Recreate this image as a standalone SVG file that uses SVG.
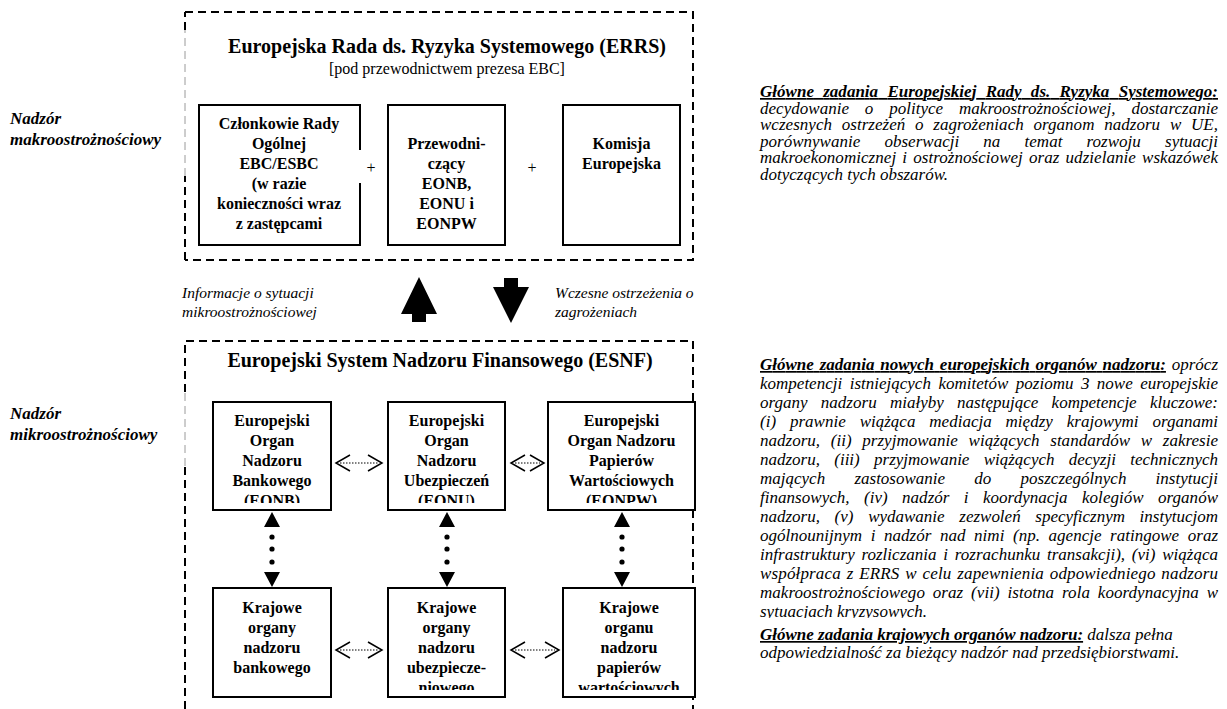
<svg xmlns="http://www.w3.org/2000/svg" width="1227" height="709" viewBox="0 0 1227 709">
<style>
text{font-family:'Liberation Serif','Times New Roman',serif;fill:#000}
.dash{fill:none;stroke:#000;stroke-width:2;stroke-dasharray:8 5}
.dashl{fill:none;stroke:#9a9a9a;stroke-width:1;stroke-dasharray:8 5}
.box{fill:#fff;stroke:#000;stroke-width:2}
.bt{font-weight:bold;font-size:16px;text-anchor:middle}
.title{font-weight:bold;font-size:20px;text-anchor:middle}
.sub{font-size:16px;text-anchor:middle}
.plus{font-size:16px;text-anchor:middle}
.lab{font-weight:bold;font-style:italic;font-size:17px}
.al{font-style:italic;font-size:15.5px}
.it{font-style:italic;font-size:17px}
.bi{font-weight:bold;font-style:italic;text-decoration:underline}
.chev{fill:none;stroke:#000;stroke-width:1.5}
.dot{fill:none;stroke:#000;stroke-width:1;stroke-dasharray:1.5 1.5}
.blk{fill:#000;stroke:none}
</style>
<defs>
<clipPath id="c1"><rect x="0" y="0" width="1227" height="503"/></clipPath>
<clipPath id="c2"><rect x="0" y="0" width="1227" height="690"/></clipPath>
<clipPath id="c3"><rect x="740" y="0" width="487" height="618"/></clipPath>
</defs>

<!-- ERRS container -->
<g id="errs">
<path class="dash" d="M185,12 H693 V260 H185"/>
<path class="dash" d="M185,260 V176"/>
<path class="dashl" d="M185,176 V30"/>
<path class="dash" d="M185,30 V12"/>
<text class="title" x="447" y="53">Europejska Rada ds. Ryzyka Systemowego (ERRS)</text>
<text class="sub" x="447" y="74">[pod przewodnictwem prezesa EBC]</text>
</g>

<g id="czlonkowie">
<rect x="199" y="105" width="161" height="140" fill="#fff"/>
<path d="M360,150 V105 H199 V245 H360 V183" fill="none" stroke="#000" stroke-width="2"/>
<text class="bt" x="279" y="129">Członkowie Rady</text>
<text class="bt" x="279" y="149">Ogólnej</text>
<text class="bt" x="279" y="169">EBC/ESBC</text>
<text class="bt" x="279" y="189">(w razie</text>
<text class="bt" x="279" y="209">konieczności wraz</text>
<text class="bt" x="279" y="229">z zastępcami</text>
</g>
<g id="plus1"><text class="plus" x="371" y="173">+</text></g>
<g id="przewodniczacy">
<rect class="box" x="388" y="105" width="117" height="140"/>
<text class="bt" x="446.5" y="149">Przewodni-</text>
<text class="bt" x="446.5" y="169">czący</text>
<text class="bt" x="446.5" y="189">EONB,</text>
<text class="bt" x="446.5" y="209">EONU i</text>
<text class="bt" x="446.5" y="229">EONPW</text>
</g>
<g id="plus2"><text class="plus" x="532" y="173">+</text></g>
<g id="komisja">
<rect class="box" x="563" y="105" width="117" height="140"/>
<text class="bt" x="621.5" y="149">Komisja</text>
<text class="bt" x="621.5" y="169">Europejska</text>
</g>

<!-- left labels -->
<g id="label-makro">
<text class="lab" x="10" y="124">Nadzór</text>
<text class="lab" x="10" y="145">makroostrożnościowy</text>
</g>
<g id="label-mikro">
<text class="lab" x="10" y="419">Nadzór</text>
<text class="lab" x="10" y="440">mikroostrożnościowy</text>
</g>

<!-- arrow labels -->
<g id="label-info">
<text class="al" x="182" y="298">Informacje o sytuacji</text>
<text class="al" x="182" y="317">mikroostrożnościowej</text>
</g>
<g id="label-warn">
<text class="al" x="555" y="298">Wczesne ostrzeżenia o</text>
<text class="al" x="555" y="317">zagrożeniach</text>
</g>

<!-- ESNF container -->
<g id="esnf">
<path class="dash" d="M185,709 V466"/>
<path class="dashl" d="M185,466 V392"/>
<path class="dash" d="M185,392 V341 H693 V709"/>
<text class="title" x="440" y="367">Europejski System Nadzoru Finansowego (ESNF)</text>
</g>

<g id="eonb">
<rect class="box" x="213" y="402" width="118" height="108"/>
<g clip-path="url(#c1)">
<text class="bt" x="272" y="426">Europejski</text>
<text class="bt" x="272" y="446">Organ</text>
<text class="bt" x="272" y="466">Nadzoru</text>
<text class="bt" x="272" y="486">Bankowego</text>
<text class="bt" x="272" y="506">(EONB)</text>
</g>
</g>
<g id="eonu">
<rect class="box" x="388" y="402" width="117" height="108"/>
<g clip-path="url(#c1)">
<text class="bt" x="446.5" y="426">Europejski</text>
<text class="bt" x="446.5" y="446">Organ</text>
<text class="bt" x="446.5" y="466">Nadzoru</text>
<text class="bt" x="446.5" y="486">Ubezpieczeń</text>
<text class="bt" x="446.5" y="506">(EONU)</text>
</g>
</g>
<g id="eonpw">
<rect class="box" x="548" y="402" width="147" height="108"/>
<g clip-path="url(#c1)">
<text class="bt" x="621.5" y="426">Europejski</text>
<text class="bt" x="621.5" y="446">Organ Nadzoru</text>
<text class="bt" x="621.5" y="466">Papierów</text>
<text class="bt" x="621.5" y="486">Wartościowych</text>
<text class="bt" x="621.5" y="506">(EONPW)</text>
</g>
</g>
<g id="kraj-bank">
<rect class="box" x="213" y="588" width="118" height="109"/>
<g clip-path="url(#c2)">
<text class="bt" x="272" y="613">Krajowe</text>
<text class="bt" x="272" y="633">organy</text>
<text class="bt" x="272" y="653">nadzoru</text>
<text class="bt" x="272" y="673">bankowego</text>
</g>
</g>
<g id="kraj-ubezp">
<rect class="box" x="388" y="588" width="117" height="109"/>
<g clip-path="url(#c2)">
<text class="bt" x="446.5" y="613">Krajowe</text>
<text class="bt" x="446.5" y="633">organy</text>
<text class="bt" x="446.5" y="653">nadzoru</text>
<text class="bt" x="446.5" y="673">ubezpiecze-</text>
<text class="bt" x="446.5" y="693">niowego</text>
</g>
</g>
<g id="kraj-papier">
<rect class="box" x="563" y="588" width="132" height="109"/>
<g clip-path="url(#c2)">
<text class="bt" x="629" y="613">Krajowe</text>
<text class="bt" x="629" y="633">organu</text>
<text class="bt" x="629" y="653">nadzoru</text>
<text class="bt" x="629" y="673">papierów</text>
<text class="bt" x="629" y="693">wartościowych</text>
</g>
</g>

<!-- connectors -->
<g id="connectors">
<polygon class="blk" points="419,277 437,314 426,314 426,322 412,322 412,314 401,314"/>
<polygon class="blk" points="504,278 518,278 518,287 529,287 511,323 493,287 504,287"/>

<path class="chev" d="M350,455 L336,463 L350,471 M368,455 L382,463 L368,471"/>
<path class="dot" d="M340,463 H378"/>
<path class="chev" d="M525,455 L511,463 L525,471 M530,455 L544,463 L530,471"/>
<path class="dot" d="M515,463 H540"/>
<path class="chev" d="M350,642 L336,650 L350,658 M368,642 L382,650 L368,658"/>
<path class="dot" d="M340,650 H378"/>
<path class="chev" d="M525,642 L511,650 L525,658 M545,642 L559,650 L545,658"/>
<path class="dot" d="M515,650 H555"/>

<polygon class="blk" points="272,512 280,527 264,527"/>
<circle class="blk" cx="272" cy="537" r="2.6"/><circle class="blk" cx="272" cy="549" r="2.6"/><circle class="blk" cx="272" cy="562" r="2.6"/>
<polygon class="blk" points="264,572 280,572 272,587"/>
<polygon class="blk" points="447,512 455,527 439,527"/>
<circle class="blk" cx="447" cy="537" r="2.6"/><circle class="blk" cx="447" cy="549" r="2.6"/><circle class="blk" cx="447" cy="562" r="2.6"/>
<polygon class="blk" points="439,572 455,572 447,587"/>
<polygon class="blk" points="622,512 630,527 614,527"/>
<circle class="blk" cx="622" cy="537" r="2.6"/><circle class="blk" cx="622" cy="549" r="2.6"/><circle class="blk" cx="622" cy="562" r="2.6"/>
<polygon class="blk" points="614,572 630,572 622,587"/>
</g>

<!-- right-hand text -->
<g id="zadania-errs">
<text class="it" x="760" y="97" textLength="458" lengthAdjust="spacing" style="word-spacing:5px"><tspan class="bi">Główne zadania Europejskiej Rady ds. Ryzyka Systemowego:</tspan></text>
<text class="it" x="760" y="113.5" textLength="458" lengthAdjust="spacing" style="word-spacing:11.5px">decydowanie o polityce makroostrożnościowej, dostarczanie</text>
<text class="it" x="760" y="130" textLength="458" lengthAdjust="spacing" style="word-spacing:5.5px">wczesnych ostrzeżeń o zagrożeniach organom nadzoru w UE,</text>
<text class="it" x="760" y="146.5" textLength="458" lengthAdjust="spacing" style="word-spacing:19.9px">porównywanie obserwacji na temat rozwoju sytuacji</text>
<text class="it" x="760" y="163" textLength="458" lengthAdjust="spacing" style="word-spacing:1.8px">makroekonomicznej i ostrożnościowej oraz udzielanie wskazówek</text>
<text class="it" x="760" y="179.5">dotyczących tych obszarów.</text>
</g>

<g id="zadania-eon" clip-path="url(#c3)">
<text class="it" x="760" y="370" textLength="458" lengthAdjust="spacing" style="word-spacing:1.5px"><tspan class="bi">Główne zadania nowych europejskich organów nadzoru:</tspan> oprócz</text>
<text class="it" x="760" y="389" textLength="458" lengthAdjust="spacing" style="word-spacing:3.2px">kompetencji istniejących komitetów poziomu 3 nowe europejskie</text>
<text class="it" x="760" y="408" textLength="458" lengthAdjust="spacing" style="word-spacing:9px">organy nadzoru miałyby następujące kompetencje kluczowe:</text>
<text class="it" x="760" y="427" textLength="458" lengthAdjust="spacing" style="word-spacing:9.6px">(i) prawnie wiążąca mediacja między krajowymi organami</text>
<text class="it" x="760" y="446" textLength="458" lengthAdjust="spacing" style="word-spacing:6.4px">nadzoru, (ii) przyjmowanie wiążących standardów w zakresie</text>
<text class="it" x="760" y="465" textLength="458" lengthAdjust="spacing" style="word-spacing:10px">nadzoru, (iii) przyjmowanie wiążących decyzji technicznych</text>
<text class="it" x="760" y="484" textLength="458" lengthAdjust="spacing" style="word-spacing:25px">mających zastosowanie do poszczególnych instytucji</text>
<text class="it" x="760" y="503" textLength="458" lengthAdjust="spacing" style="word-spacing:10.1px">finansowych, (iv) nadzór i koordynacja kolegiów organów</text>
<text class="it" x="760" y="522" textLength="458" lengthAdjust="spacing" style="word-spacing:10.4px">nadzoru, (v) wydawanie zezwoleń specyficznym instytucjom</text>
<text class="it" x="760" y="541" textLength="458" lengthAdjust="spacing" style="word-spacing:4.4px">ogólnounijnym i nadzór nad nimi (np. agencje ratingowe oraz</text>
<text class="it" x="760" y="560" textLength="458" lengthAdjust="spacing" style="word-spacing:2.4px">infrastruktury rozliczania i rozrachunku transakcji), (vi) wiążąca</text>
<text class="it" x="760" y="579" textLength="458" lengthAdjust="spacing" style="word-spacing:1.4px">współpraca z ERRS w celu zapewnienia odpowiedniego nadzoru</text>
<text class="it" x="760" y="598" textLength="458" lengthAdjust="spacing" style="word-spacing:3.6px">makroostrożnościowego oraz (vii) istotna rola koordynacyjna w</text>
<text class="it" x="760" y="617">sytuacjach kryzysowych.</text>
</g>

<g id="zadania-krajowe">
<text class="it" x="760" y="640"><tspan class="bi">Główne zadania krajowych organów nadzoru:</tspan> dalsza pełna</text>
<text class="it" x="760" y="658">odpowiedzialność za bieżący nadzór nad przedsiębiorstwami.</text>
</g>
</svg>
